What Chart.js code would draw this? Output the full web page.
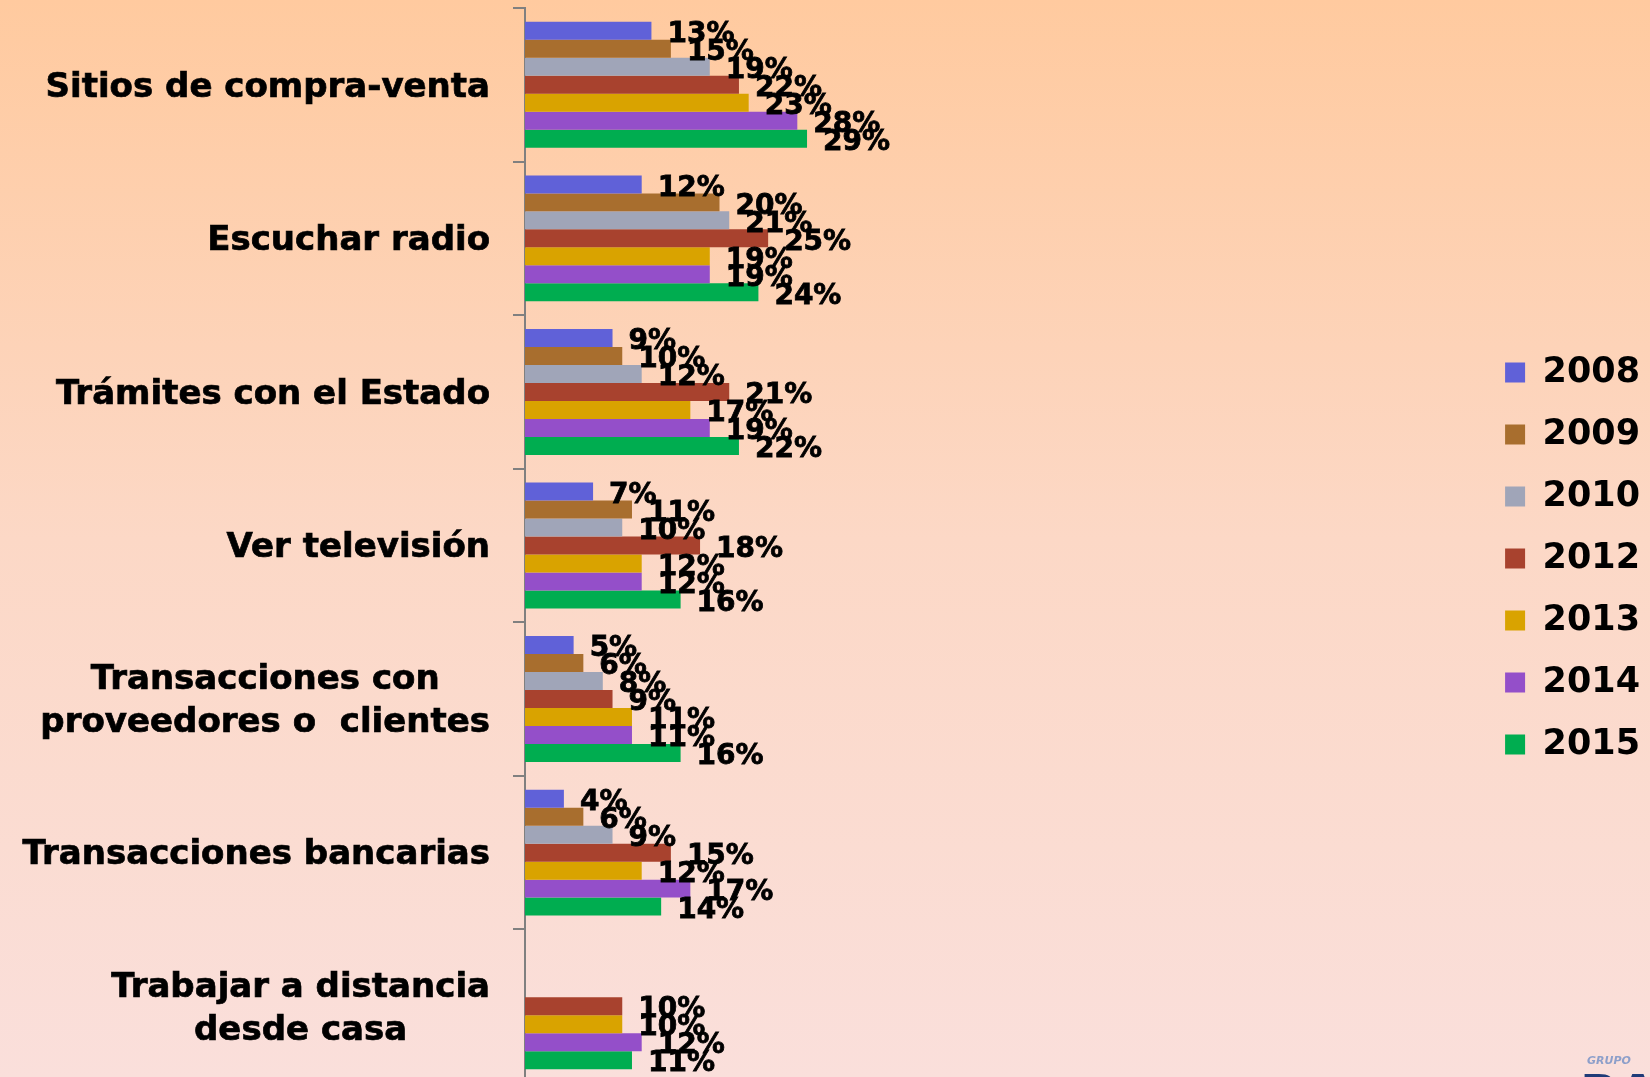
<!DOCTYPE html>
<html>
<head>
<meta charset="utf-8">
<script src="https://cdn.jsdelivr.net/npm/chart.js@4/dist/chart.umd.min.js"></script>
<style>
  html, body { margin: 0; padding: 0; overflow: hidden; }
  body { width: 1650px; height: 1077px; background: linear-gradient(#ffca9f, #fcd8c6 50%, #fadfdb); }
  canvas { display: block; }
</style>
</head>
<body>
<canvas id="grafico" width="1650" height="1083"></canvas>
<script>
const categorias = [
    "Sitios de compra-venta",
    "Escuchar radio",
    "Trámites con el Estado",
    "Ver televisión",
    ["Transacciones con", "proveedores o  clientes"],
    "Transacciones bancarias",
    ["Trabajar a distancia", "desde casa"]
];
const anos = ["2008", "2009", "2010", "2012", "2013", "2014", "2015"];
const v2008 = [13, 12, 9, 7, 5, 4, null];
const v2009 = [15, 20, 10, 11, 6, 6, null];
const v2010 = [19, 21, 12, 10, 8, 9, null];
const v2012 = [22, 25, 21, 18, 9, 15, 10];
const v2013 = [23, 19, 17, 12, 11, 12, 10];
const v2014 = [28, 19, 19, 12, 11, 17, 12];
const v2015 = [29, 24, 22, 16, 16, 14, 11];
const cores = ["#6061d8", "#a86e2e", "#a0a5b8", "#a8422e", "#d9a300", "#944fc9", "#00ad50"];

const series = [v2008, v2009, v2010, v2012, v2013, v2014, v2015];
const fonte = '"DejaVu Sans", Verdana, sans-serif';

// rótulos do eixo: bloco alinhado à direita, linhas centradas no bloco
const rotulosEixo = {
    id: "rotulosEixo",
    afterDraw(chart) {
        const eixo = chart.scales.y;
        const ctx = chart.ctx;
        ctx.save();
        ctx.font = "bold 34px " + fonte;
        ctx.fillStyle = "#000";
        ctx.strokeStyle = "#000";
        ctx.lineWidth = 0.7;
        ctx.textBaseline = "middle";
        ctx.textAlign = "center";
        const direita = eixo.right - 35;
        categorias.forEach((cat, i) => {
            const linhas = Array.isArray(cat) ? cat : [cat];
            const largura = Math.max(...linhas.map(l => ctx.measureText(l).width));
            const cx = direita - largura / 2;
            const yc = eixo.getPixelForValue(i) + 3;
            linhas.forEach((l, j) => {
                const y = yc + (j - (linhas.length - 1) / 2) * 43;
                ctx.fillText(l, cx, y);
                ctx.strokeText(l, cx, y);
            });
        });
        ctx.restore();
    }
};

// valores ao lado das barras
const rotulosValores = {
    id: "rotulosValores",
    afterDatasetsDraw(chart) {
        const ctx = chart.ctx;
        ctx.save();
        ctx.font = "bold 28px " + fonte;
        ctx.fillStyle = "#000";
        ctx.strokeStyle = "#000";
        ctx.lineWidth = 0.8;
        ctx.textBaseline = "middle";
        ctx.textAlign = "left";
        chart.data.datasets.forEach((ds, i) => {
            chart.getDatasetMeta(i).data.forEach((barra, j) => {
                if (ds.data[j] == null) return;
                const txt = ds.data[j] + "%";
                ctx.fillText(txt, barra.x + 16, barra.y + 4);
                ctx.strokeText(txt, barra.x + 16, barra.y + 4);
            });
        });
        ctx.restore();
    }
};

// logotipo no canto
const logo = {
    id: "logo",
    afterDraw(chart) {
        const ctx = chart.ctx;
        ctx.save();
        ctx.fillStyle = "#8d9fca";
        ctx.font = "italic bold 11px " + fonte;
        ctx.textBaseline = "alphabetic";
        ctx.fillText("GRUPO", 1587, 1064);
        ctx.fillStyle = "#1f3b78";
        ctx.font = "bold 50px " + fonte;
        ctx.fillText("RA", 1580, 1110);
        ctx.restore();
    }
};

new Chart(document.getElementById("grafico"), {
    type: "bar",
    data: {
        labels: categorias,
        datasets: anos.map((ano, i) => ({
            label: ano,
            data: series[i],
            backgroundColor: cores[i],
            borderWidth: 0,
            categoryPercentage: 0.82,
            barPercentage: 1
        }))
    },
    options: {
        indexAxis: "y",
        responsive: false,
        animation: false,
        layout: { padding: { top: 8, right: 0, left: 0, bottom: 0 } },
        plugins: {
            legend: {
                position: "right",
                title: {
                    display: true,
                    text: "",
                    font: { size: 20, lineHeight: 1.2 },
                    padding: { top: 1, bottom: 1 }
                },
                labels: {
                    color: "#000",
                    font: { family: fonte, size: 35, weight: "bold" },
                    boxWidth: 20,
                    boxHeight: 20,
                    padding: 27
                }
            },
            tooltip: { enabled: false }
        },
        scales: {
            x: {
                display: false,
                min: 0,
                max: 98
            },
            y: {
                afterFit(scale) { scale.width = 525; },
                ticks: { display: false },
                grid: {
                    drawOnChartArea: false,
                    color: "#808080",
                    lineWidth: 2,
                    tickLength: 12
                },
                border: { color: "#808080", width: 2 }
            }
        }
    },
    plugins: [rotulosEixo, rotulosValores, logo]
});
</script>
</body>
</html>
